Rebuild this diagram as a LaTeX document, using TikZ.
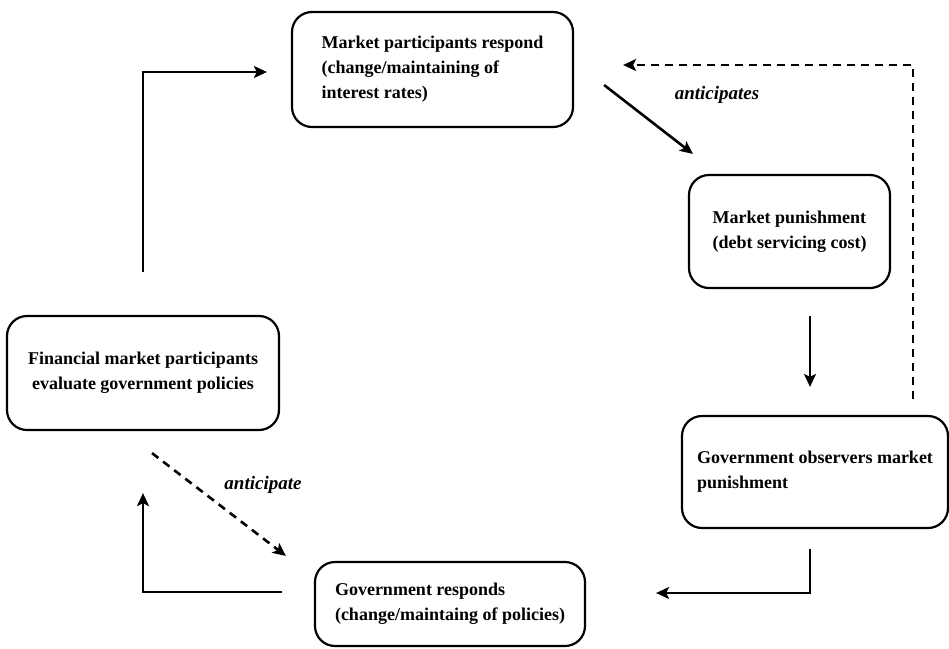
\documentclass[tikz,border=0pt]{standalone}
\usepackage{fontspec}
\setmainfont{Liberation Serif}
\usetikzlibrary{arrows.meta,calc}

\begin{document}
\begin{tikzpicture}[x=1pt, y=-1pt, >={Stealth[length=13pt,width=12pt,inset=3pt]},
    box/.style={draw, line width=2.2pt, rounded corners=20pt, align=left, inner sep=0pt,
        font=\fontsize{18}{25}\selectfont\bfseries},
    arr/.style={->, line width=2.6pt},
    dash arr/.style={arr, dash pattern=on 8pt off 6pt},
    lbl/.style={font=\fontsize{19}{20}\selectfont\bfseries\itshape}]
    \useasboundingbox (0,0) rectangle (949,648);

    % 1. The five boxes of the cycle
    \node[box, minimum width=281pt, minimum height=115pt] (mpr) at (432.5,69.5)
        {Market participants respond\\(change/maintaining of\\interest rates)};
    \node[box, minimum width=201pt, minimum height=113pt] (mpun) at (789.5,231.5)
        {Market punishment\\(debt servicing cost)};
    \node[box, minimum width=266pt, minimum height=112pt] (gobs) at (815,472)
        {Government observers market\\punishment};
    \node[box, minimum width=270pt, minimum height=84pt] (gresp) at (450,604)
        {Government responds\\(change/maintaing of policies)};
    \node[box, align=center, minimum width=272pt, minimum height=114pt] (fin) at (143,373)
        {Financial market participants\\evaluate government policies};

    % 2. Solid arrows round the cycle
    \draw[arr] ($(fin.north)+(0,-43)$) |- ($(mpr.west)+(-24,2.5)$);
    \draw[arr] ($(mpr.east)+(30,15.5)$) -- ($(mpun.north west)+(5,-20)$);
    \draw[arr] ($(mpun.south)+(20.5,27)$) -- ($(gobs.north)+(-5,-28)$);
    \draw[arr] ($(gobs.south)+(-5,20)$) |- ($(gresp.east)+(70,-11)$);
    \draw[arr] ($(gresp.west)+(-32,-12)$) -| ($(fin.south)+(0,62)$);

    % 3. Dashed arrows (anticipation)
    \draw[dash arr] ($(fin.south)+(9,22)$) -- ($(gresp.north west)+(-28,-5)$);
    \draw[dash arr] ($(gobs.north)+(98,-16)$) |- ($(mpr.east)+(49,-4.5)$);

    % 4. Labels
    \node[lbl] (antA) at (717,95) {anticipates};
    \node[lbl] (antB) at (263,485) {anticipate};
\end{tikzpicture}
\end{document}
